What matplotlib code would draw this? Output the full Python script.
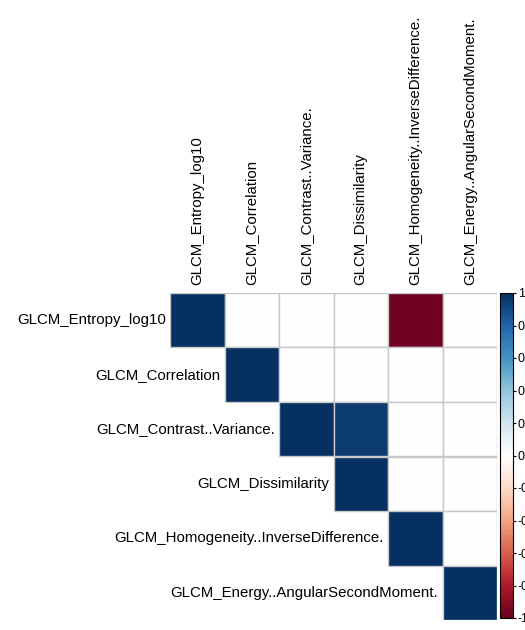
import matplotlib
matplotlib.use("Agg")
import matplotlib.pyplot as plt
import numpy as np
from matplotlib.colors import LinearSegmentedColormap, Normalize
from matplotlib.cm import ScalarMappable
from matplotlib.patches import Rectangle

# nomes das variaveis
variaveis = ["GLCM_Entropy_log10", "GLCM_Correlation", "GLCM_Contrast..Variance.",
             "GLCM_Dissimilarity", "GLCM_Homogeneity..InverseDifference.",
             "GLCM_Energy..AngularSecondMoment."]

# correlacoes (triangulo superior, celulas em branco = 0)
linha_0 = [1.0, 0.0, 0.0, 0.0, -0.98, 0.0]
linha_1 = [0.0, 1.0, 0.0, 0.0, 0.0, 0.0]
linha_2 = [0.0, 0.0, 1.0, 0.95, 0.0, 0.0]
linha_3 = [0.0, 0.0, 0.0, 1.0, 0.0, 0.0]
linha_4 = [0.0, 0.0, 0.0, 0.0, 1.0, 0.0]
linha_5 = [0.0, 0.0, 0.0, 0.0, 0.0, 1.0]

cbar_ticks = [-1, -0.8, -0.6, -0.4, -0.2, 0, 0.2, 0.4, 0.6, 0.8, 1]

plt.rcParams['font.family'] = ['Liberation Sans', 'DejaVu Sans']

# paleta RdBu do corrplot
cores = ["#67001F", "#B2182B", "#D6604D", "#F4A582", "#FDDBC7", "#FFFFFF",
         "#D1E5F0", "#92C5DE", "#4393C3", "#2166AC", "#053061"]
cmap = LinearSegmentedColormap.from_list("rdbu", cores, N=200)
norm = Normalize(vmin=-1, vmax=1)

corr = np.array([linha_0, linha_1, linha_2, linha_3, linha_4, linha_5])
n = len(variaveis)

W, H = 525, 630
fig = plt.figure(figsize=(W / 100, H / 100), dpi=100)
ax = fig.add_axes([170 / W, (H - 620) / H, 327 / W, 327 / H])

# so o triangulo superior
for i in range(n):
    for j in range(i, n):
        ax.add_patch(Rectangle((j, i), 1, 1, facecolor=cmap(norm(corr[i, j])),
                               edgecolor="#C8C8C8", linewidth=1.0))
ax.set_xlim(0, n)
ax.set_ylim(n, 0)
ax.set_aspect("equal")
ax.axis("off")

# rotulos das linhas e colunas
for i, nome in enumerate(variaveis):
    ax.text(i - 0.08, i + 0.5, nome, ha="right", va="center", fontsize=10.8)
    ax.text(i + 0.5, -0.14, nome, ha="center", va="bottom", rotation=90, fontsize=10.8)

# barra de cores (rotulos cortados na borda, como no original)
cax = fig.add_axes([500 / W, (H - 618) / H, 13 / W, 325 / H])
cb = fig.colorbar(ScalarMappable(norm=norm, cmap=cmap), cax=cax, ticks=cbar_ticks)
cb.ax.set_yticklabels([str(t) for t in cbar_ticks])
cb.ax.tick_params(labelsize=9, length=2.5, width=0.8, pad=1)
cb.outline.set_linewidth(0.8)

fig.savefig("out.png", dpi=100)
